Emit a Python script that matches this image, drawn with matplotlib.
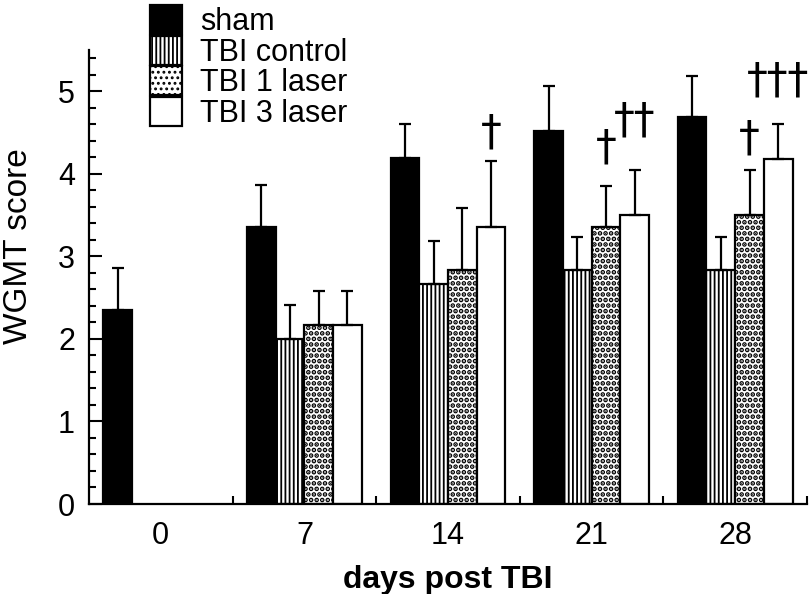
import numpy as np
import matplotlib
matplotlib.use('Agg')
import matplotlib.pyplot as plt
from matplotlib.patches import Patch

plt.rcParams['font.family'] = ['Liberation Sans', 'DejaVu Sans']
plt.rcParams['hatch.linewidth'] = 1.3

# values (WGMT score, mean and upper SEM)
days = ['0', '7', '14', '21', '28']
series_names = ['sham', 'TBI control', 'TBI 1 laser', 'TBI 3 laser']
sham = [2.35, 3.36, 4.19, 4.52, 4.69]
sham_err = [0.51, 0.50, 0.41, 0.54, 0.50]
tbi_control = [np.nan, 2.00, 2.67, 2.84, 2.84]
tbi_control_err = [np.nan, 0.41, 0.52, 0.40, 0.40]
tbi_1_laser = [np.nan, 2.17, 2.84, 3.35, 3.50]
tbi_1_laser_err = [np.nan, 0.41, 0.75, 0.50, 0.55]
tbi_3_laser = [np.nan, 2.17, 3.35, 3.50, 4.18]
tbi_3_laser_err = [np.nan, 0.41, 0.81, 0.55, 0.42]

# significance marks: group index, series index, text, y position
dagger_group = [2, 3, 3, 4, 4]
dagger_series = [3, 2, 3, 2, 3]
dagger_text = ['\u2020', '\u2020', '\u2020\u2020', '\u2020', '\u2020\u2020\u2020']
dagger_y = [4.50, 4.32, 4.65, 4.43, 5.13]

values = [sham, tbi_control, tbi_1_laser, tbi_3_laser]
errors = [sham_err, tbi_control_err, tbi_1_laser_err, tbi_3_laser_err]
faces = ['black', 'white', 'white', 'white']
hatches = [None, '||||', '...', None]
hatch_lw = [1.3, 1.3, 2.4, 1.3]

fig = plt.figure(figsize=(8.1, 5.94), dpi=100)
ax = fig.add_axes([89/810, 1 - 504/594, (807-89)/810, (504-50)/594])

width = 0.2
offsets = [-0.3, -0.1, 0.1, 0.3]
x = np.arange(len(days))

for i in range(4):
    v = np.array(values[i], dtype=float)
    e = np.array(errors[i], dtype=float)
    ok = ~np.isnan(v)
    xs = x[ok] + offsets[i]
    with plt.rc_context({'hatch.linewidth': hatch_lw[i]}):
        ax.bar(xs, v[ok], width=width, color=faces[i], edgecolor='black',
               linewidth=1.6, hatch=hatches[i], zorder=2)
    ax.errorbar(xs, v[ok], yerr=[np.zeros(ok.sum()), e[ok]], fmt='none',
                ecolor='black', elinewidth=1.6, capsize=4, capthick=1.6, zorder=3)

for g, s, t, yy in zip(dagger_group, dagger_series, dagger_text, dagger_y):
    ax.text(x[g] + offsets[s], yy, t, ha='center', va='center',
            fontsize=30, family='DejaVu Sans')

ax.set_xlim(-0.5, 4.5)
ax.set_ylim(0, 5.5)
ax.set_xticks(x)
ax.set_xticklabels(days)
ax.set_xticks(x + 0.5, minor=True)
ax.set_yticks(np.arange(0, 6, 1))
ax.set_yticks(np.arange(0, 5.5, 0.2), minor=True)
ax.tick_params(axis='x', which='major', length=0, labelsize=22, pad=12)
ax.tick_params(axis='x', which='minor', direction='in', length=6, width=1.5)
ax.tick_params(axis='y', which='major', direction='in', length=9, width=1.5,
               labelsize=22, pad=10)
ax.tick_params(axis='y', which='minor', direction='in', length=5, width=1.5)
for side in ['top', 'right']:
    ax.spines[side].set_visible(False)
for side in ['left', 'bottom']:
    ax.spines[side].set_linewidth(1.6)

ax.set_xlabel('days post TBI', fontsize=23, fontweight='bold', labelpad=10)
ax.set_ylabel('WGMT score', fontsize=24)
ax.yaxis.set_label_coords(-0.076, 0.568)

handles = []
for i in range(4):
    with plt.rc_context({'hatch.linewidth': hatch_lw[i]}):
        handles.append(Patch(facecolor=faces[i], edgecolor='black',
                             hatch=hatches[i], linewidth=1.6))
fig.legend(handles, series_names, loc='upper left',
           bbox_to_anchor=(150/810, 1 - 5/594), frameon=False,
           fontsize=22, handlelength=1.05, handleheight=1.1,
           labelspacing=-0.05, handletextpad=0.6, borderpad=0, borderaxespad=0)

plt.savefig('out.png', dpi=100)
